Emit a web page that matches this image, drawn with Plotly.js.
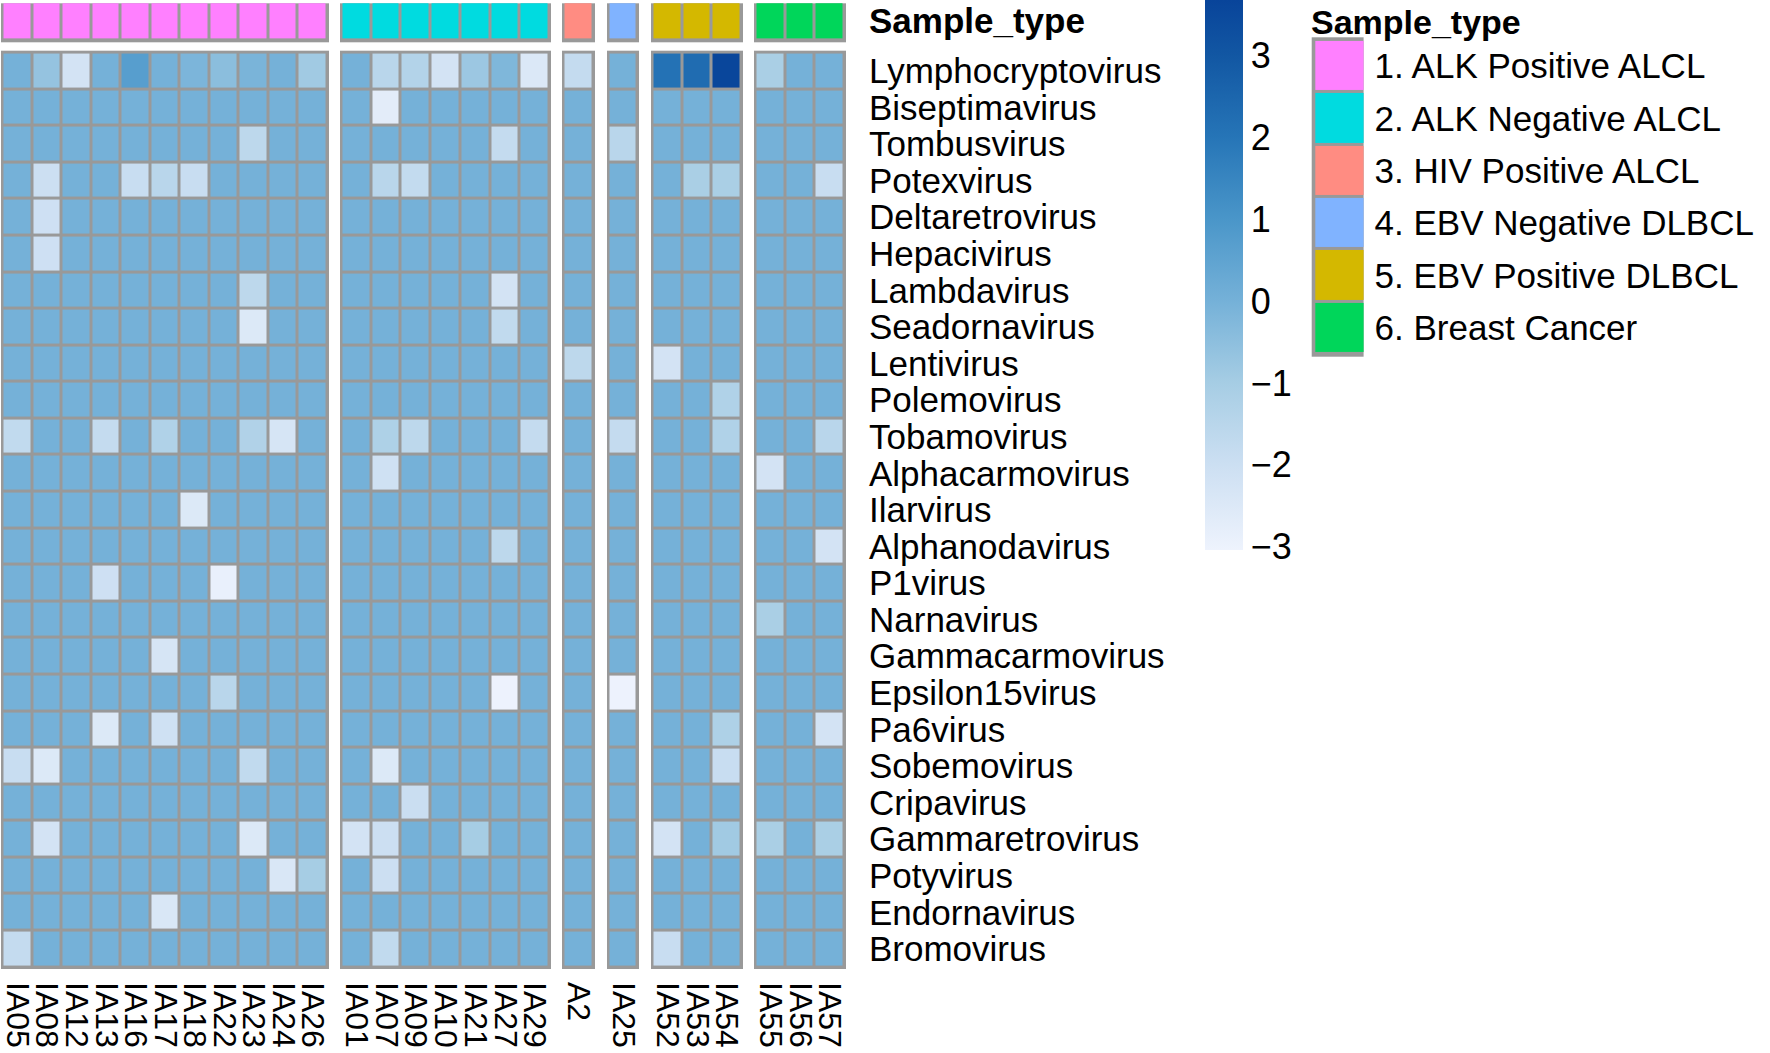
<!DOCTYPE html>
<html>
<head>
<meta charset="utf-8">
<script src="https://cdn.plot.ly/plotly-3.0.1.min.js"></script>
<style>
body { margin: 0; background: #fff; }
#heatmap { width: 1770px; height: 1053px; }
</style>
</head>
<body>
<div id="heatmap"></div>
<script>
// virus rows, top to bottom
let viruses = ['Lymphocryptovirus', 'Biseptimavirus', 'Tombusvirus', 'Potexvirus', 'Deltaretrovirus',
  'Hepacivirus', 'Lambdavirus', 'Seadornavirus', 'Lentivirus', 'Polemovirus', 'Tobamovirus',
  'Alphacarmovirus', 'Ilarvirus', 'Alphanodavirus', 'P1virus', 'Narnavirus', 'Gammacarmovirus',
  'Epsilon15virus', 'Pa6virus', 'Sobemovirus', 'Cripavirus', 'Gammaretrovirus', 'Potyvirus',
  'Endornavirus', 'Bromovirus'];

// sample columns, left to right
let samples = ['IA05', 'IA08', 'IA12', 'IA13', 'IA16', 'IA17', 'IA18', 'IA22', 'IA23', 'IA24', 'IA26',
  'IA01', 'IA07', 'IA09', 'IA10', 'IA21', 'IA27', 'IA29',
  'A2', 'IA25', 'IA52', 'IA53', 'IA54', 'IA55', 'IA56', 'IA57'];

// sample type of each column (index into groupNames)
let sampleGroup = [0,0,0,0,0,0,0,0,0,0,0, 1,1,1,1,1,1,1, 2, 3, 4,4,4, 5,5,5];

let groupNames = ['1. ALK Positive ALCL', '2. ALK Negative ALCL', '3. HIV Positive ALCL',
  '4. EBV Negative DLBCL', '5. EBV Positive DLBCL', '6. Breast Cancer'];

// scaled abundance, one row per virus, columns in the order of samples
let values = [
  [0,-0.65,-2.2,0,0.7,0,-0.15,-0.45,-0.1,0,-0.9,  0,-1.5,-1.35,-2.2,-0.8,-0.2,-2.45,  -1.8,  0,  2.1,2.3,3.6,  -1.1,0,0],
  [0,0,0,0,0,0,0,0,0,0,0,  0,-2.7,0,0,0,0,0,  0,  0,  0,0,0,  0,0,0],
  [0,0,0,0,0,0,0,0,-1.6,0,0,  0,0,0,0,0,-1.8,0,  0,  -1.5,  0,0,0,  0,0,0],
  [0,-2.0,0,0,-1.9,-1.5,-1.9,0,0,0,0,  0,-1.5,-1.75,0,0,0,0,  0,  0,  0,-1.1,-1.1,  0,0,-1.9],
  [0,-2.05,0,0,0,0,0,0,0,0,0,  0,0,0,0,0,0,0,  0,  0,  0,0,0,  0,0,0],
  [0,-2.05,0,0,0,0,0,0,0,0,0,  0,0,0,0,0,0,0,  0,  0,  0,0,0,  0,0,0],
  [0,0,0,0,0,0,0,0,-1.6,0,0,  0,0,0,0,0,-2.2,0,  0,  0,  0,0,0,  0,0,0],
  [0,0,0,0,0,0,0,0,-2.5,0,0,  0,0,0,0,0,-1.7,0,  0,  0,  0,0,0,  0,0,0],
  [0,0,0,0,0,0,0,0,0,0,0,  0,0,0,0,0,0,0,  -1.6,  0,  -2.2,0,0,  0,0,0],
  [0,0,0,0,0,0,0,0,0,0,0,  0,0,0,0,0,0,0,  0,  0,  0,0,-1.25,  0,0,0],
  [-1.7,0,0,-1.8,0,-1.25,0,0,-1.3,-2.3,0,  0,-1.2,-1.6,0,0,0,-1.8,  0,  -1.8,  0,0,-1.25,  0,0,-1.5],
  [0,0,0,0,0,0,0,0,0,0,0,  0,-2.1,0,0,0,0,0,  0,  0,  0,0,0,  -2.2,0,0],
  [0,0,0,0,0,0,-2.5,0,0,0,0,  0,0,0,0,0,0,0,  0,  0,  0,0,0,  0,0,0],
  [0,0,0,0,0,0,0,0,0,0,0,  0,0,0,0,0,-1.6,0,  0,  0,  0,0,0,  0,0,-2.2],
  [0,0,0,-2.05,0,0,0,-2.9,0,0,0,  0,0,0,0,0,0,0,  0,  0,  0,0,0,  0,0,0],
  [0,0,0,0,0,0,0,0,0,0,0,  0,0,0,0,0,0,0,  0,  0,  0,0,0,  -1.1,0,0],
  [0,0,0,0,0,-2.3,0,0,0,0,0,  0,0,0,0,0,0,0,  0,  0,  0,0,0,  0,0,0],
  [0,0,0,0,0,0,0,-1.5,0,0,0,  0,0,0,0,0,-3.0,0,  0,  -3.0,  0,0,0,  0,0,0],
  [0,0,0,-2.5,0,-2.1,0,0,0,0,0,  0,0,0,0,0,0,0,  0,  0,  0,0,-1.2,  0,0,-2.2],
  [-1.9,-2.5,0,0,0,0,0,0,-1.7,0,0,  0,-2.5,0,0,0,0,0,  0,  0,  0,0,-1.9,  0,0,0],
  [0,0,0,0,0,0,0,0,0,0,0,  0,0,-1.95,0,0,0,0,  0,  0,  0,0,0,  0,0,0],
  [0,-2.2,0,0,0,0,0,0,-2.5,0,0,  -2.2,-2.0,0,0,-1.0,0,0,  0,  0,  -2.2,0,-0.9,  -1.1,0,-1.1],
  [0,0,0,0,0,0,0,0,0,-2.4,-1.0,  0,-2.0,0,0,0,0,0,  0,  0,  0,0,0,  0,0,0],
  [0,0,0,0,0,-2.4,0,0,0,0,0,  0,0,0,0,0,0,0,  0,  0,  0,0,0,  0,0,0],
  [-1.8,0,0,0,0,0,0,0,0,0,0,  0,-1.7,0,0,0,0,0,  0,  0,  -1.9,0,0,  0,0,0]
];

let scaleTicks = [-3, -2, -1, 0, 1, 2, 3];

// ---- styling ----
const W = 1770, H = 1053;
const font = 'Liberation Sans, Arial, sans-serif';
const zMin = -3.04, zMax = 3.68;
const border = '#999999';
const groupColors = ['#FF80FF', '#00DBE0', '#FF8C82', '#80B3FF', '#D4B800', '#00D65A'];
const blues = [[-3.04, '#EEF3FD'], [-2, '#CCDFF2'], [-1, '#A6CDE4'], [0, '#75B1D8'],
  [1, '#4A96C9'], [2, '#2675B7'], [3, '#1257A3'], [3.68, '#08449A']];
const heatScale = blues.map(d => [(d[0] - zMin) / (zMax - zMin), d[1]]);
const groupScale = groupColors.map((c, i) => [i / (groupColors.length - 1), c]);

// pixel bounds of each column block
const blockLeft = [1, 340, 562, 607, 651, 754];
const blockRight = [329, 551, 595, 639, 743, 846];
const px = x => x / W;
const py = y => 1 - y / H;

let traces = [];
let layout = {
  width: W, height: H,
  margin: {l: 0, r: 0, t: 0, b: 0, pad: 0},
  paper_bgcolor: '#ffffff',
  plot_bgcolor: border,
  font: {family: font, size: 36, color: '#000'},
  showlegend: false,
  annotations: []
};

groupNames.forEach((g, k) => {
  let cols = samples.map((s, i) => i).filter(i => sampleGroup[i] === k);
  let xs = cols.map(i => samples[i]);
  let xName = k === 0 ? 'x' : 'x' + (k + 1);
  traces.push({
    type: 'heatmap', x: xs, y: viruses,
    z: values.map(row => cols.map(i => row[i])),
    xaxis: xName, yaxis: 'y',
    colorscale: heatScale, zmin: zMin, zmax: zMax,
    xgap: 3, ygap: 3, hoverinfo: 'skip',
    showscale: k === 0,
    colorbar: {
      x: px(1205), xanchor: 'left', y: 1, yanchor: 'top',
      len: 550, lenmode: 'pixels', thickness: 38, thicknessmode: 'pixels',
      xpad: 0, ypad: 0, outlinewidth: 0, ticks: '',
      tickvals: scaleTicks, ticktext: scaleTicks.map(t => String(t).replace('-', '\u2212')),
      tickfont: {family: font, size: 36, color: '#000'}
    }
  });
  traces.push({
    type: 'heatmap', x: xs, y: ['Sample_type'],
    z: [cols.map(i => sampleGroup[i])],
    xaxis: xName, yaxis: 'y2',
    colorscale: groupScale, zmin: 0, zmax: groupNames.length - 1,
    xgap: 3, ygap: 3, hoverinfo: 'skip', showscale: false
  });
  layout[k === 0 ? 'xaxis' : 'xaxis' + (k + 1)] = {
    domain: [px(blockLeft[k]), px(blockRight[k])],
    anchor: 'y', type: 'category',
    range: [-0.55, xs.length - 0.45],
    tickmode: 'array', tickvals: xs, ticktext: xs,
    tickangle: 90, ticks: '', ticklabelstandoff: 12,
    showgrid: false, zeroline: false, showline: false, fixedrange: true,
    tickfont: {family: font, size: 32, color: '#000'}
  };
});

layout.yaxis = {
  domain: [py(969), py(50.7)], anchor: 'x6', side: 'right', type: 'category',
  range: [viruses.length - 0.45, -0.55],
  tickmode: 'array', tickvals: viruses, ticktext: viruses,
  ticks: '', ticklabelstandoff: 22, showgrid: false, zeroline: false, fixedrange: true,
  tickfont: {family: font, size: 35, color: '#000'}
};
layout.yaxis2 = {
  domain: [py(42.3), py(3.3)], anchor: 'x6', side: 'right', type: 'category',
  range: [-0.55, 0.45],
  tickmode: 'array', tickvals: ['Sample_type'], ticktext: ['<b>Sample_type</b>'],
  ticks: '', ticklabelstandoff: 22, showgrid: false, zeroline: false, fixedrange: true,
  tickfont: {family: font, size: 35, color: '#000'}
};

// sample type key, drawn as a one-column heatmap
traces.push({
  type: 'heatmap', x: ['key'], y: groupNames,
  z: groupNames.map((g, i) => [i]),
  xaxis: 'x7', yaxis: 'y3',
  colorscale: groupScale, zmin: 0, zmax: groupNames.length - 1,
  xgap: 3, ygap: 3, hoverinfo: 'skip', showscale: false
});
layout.xaxis7 = {
  domain: [px(1311.7), px(1363.6)], anchor: 'y3', type: 'category',
  range: [-0.55, 0.45], visible: false, fixedrange: true
};
layout.yaxis3 = {
  domain: [py(356.7), py(37.3)], anchor: 'x7', side: 'right', type: 'category',
  range: [groupNames.length - 0.45, -0.55],
  tickmode: 'array', tickvals: groupNames, ticktext: groupNames,
  ticks: '', ticklabelstandoff: 10, showgrid: false, zeroline: false, fixedrange: true,
  tickfont: {family: font, size: 35, color: '#000'}
};
layout.annotations.push({
  text: '<b>Sample_type</b>', xref: 'paper', yref: 'paper',
  x: px(1309), xanchor: 'left', y: py(1), yanchor: 'top',
  showarrow: false, font: {family: font, size: 34, color: '#000'}
});

Plotly.newPlot('heatmap', traces, layout, {staticPlot: true});
</script>
</body>
</html>
